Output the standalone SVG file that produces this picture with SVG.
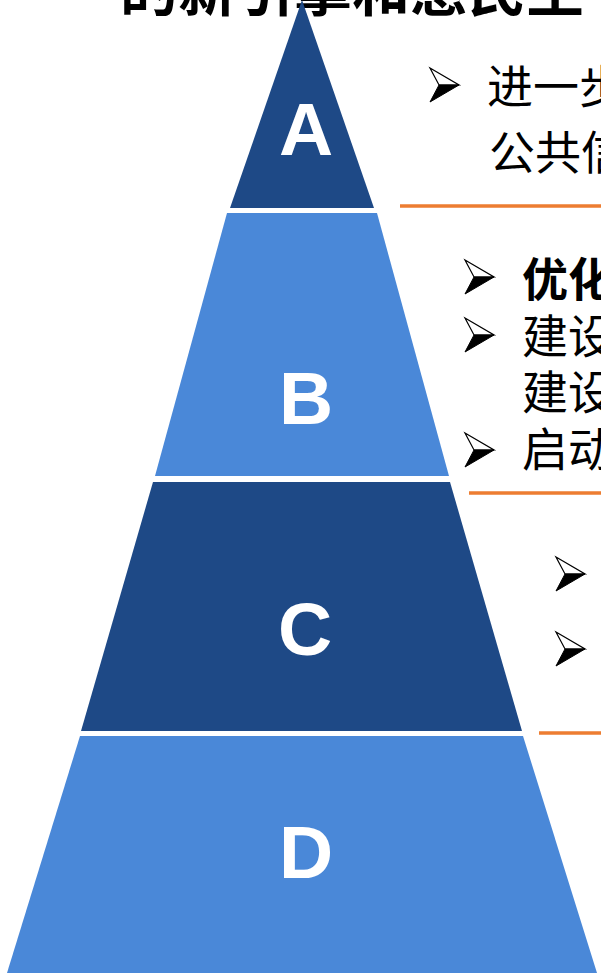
<svg xmlns="http://www.w3.org/2000/svg" width="601" height="973" viewBox="0 0 601 973">
<style>
.dark{fill:#1E4986}
.light{fill:#4A88D8}
.lbl{font-family:"Liberation Sans",Arial,sans-serif;font-weight:bold;font-size:75px;fill:#fff;text-anchor:middle}
.cjk{font-family:"Noto Sans CJK SC","Noto Sans",sans-serif;font-size:46px;fill:#000}
.sep{stroke:#ED7D31;stroke-width:3.5;fill:none}
.title{font-family:"Noto Sans CJK SC",sans-serif;font-weight:bold;font-size:58px;fill:#000}
</style>
<defs>
<g id="bullet">
<polygon points="0,0 29,17 9,17" fill="#fff" stroke="#000" stroke-width="1.2" stroke-linejoin="miter"/>
<polygon points="9,17 29,17 0,34" fill="#000" stroke="#000" stroke-width="1"/>
</g>
</defs>
<rect width="601" height="973" fill="#fff"/>
<text class="title" x="120" y="11">的新引擎和惠民生</text>
<g id="layer-A">
<polygon class="dark" points="302,0 374,208 230,208"/>
<text class="lbl" x="306" y="155">A</text>
</g>
<g id="layer-B">
<polygon class="light" points="227,213 377,213 449,476 155,476"/>
<text class="lbl" x="306" y="424">B</text>
</g>
<g id="layer-C">
<polygon class="dark" points="153,482 450,482 522,731 81,731"/>
<text class="lbl" x="305" y="655">C</text>
</g>
<g id="layer-D">
<polygon class="light" points="80,736 523,736 597,973 7,973"/>
<text class="lbl" x="306" y="878">D</text>
</g>
<g id="connectors">
<line class="sep" x1="400" y1="206" x2="601" y2="206"/>
<line class="sep" x1="469" y1="493" x2="601" y2="493"/>
<line class="sep" x1="539" y1="733" x2="601" y2="733"/>
</g>
<g id="text-A">
<use href="#bullet" x="430" y="68"/>
<text class="cjk" x="487" y="103">进一步</text>
<text class="cjk" x="489" y="169">公共信</text>
</g>
<g id="text-B">
<use href="#bullet" x="465" y="260"/>
<text class="cjk" x="522" y="296" font-weight="bold">优化</text>
<use href="#bullet" x="465" y="318"/>
<text class="cjk" x="522" y="353">建设</text>
<text class="cjk" x="522" y="409">建设</text>
<use href="#bullet" x="465" y="433"/>
<text class="cjk" x="522" y="466">启动</text>
</g>
<g id="text-C">
<use href="#bullet" x="556" y="557"/>
<use href="#bullet" x="556" y="632"/>
</g>
</svg>
